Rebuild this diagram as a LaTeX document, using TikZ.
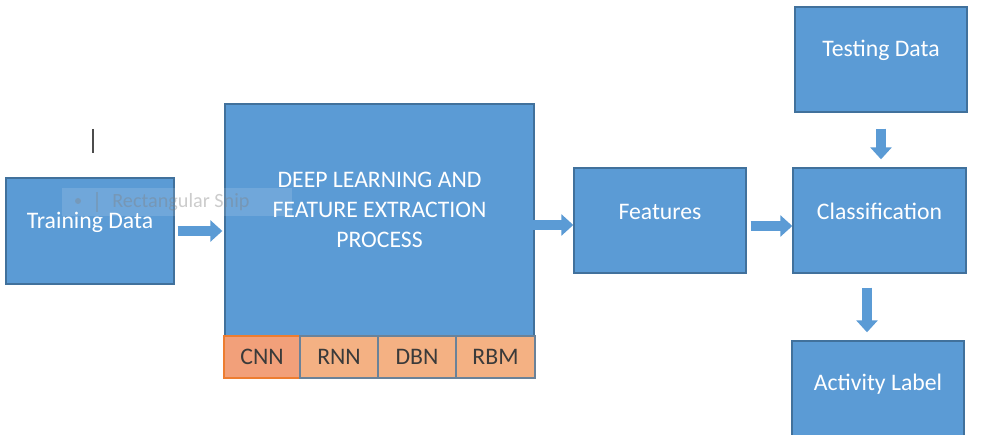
\documentclass[tikz,border=0pt]{standalone}
\usepackage{fontspec}
\setmainfont{Carlito}
\usetikzlibrary{arrows.meta,calc}
\definecolor{boxblue}{HTML}{5B9BD5}
\definecolor{boxedge}{HTML}{41719C}
\definecolor{peach}{HTML}{F4B183}
\definecolor{peachsel}{HTML}{F2A07A}
\definecolor{peachedge}{HTML}{ED7D31}
\definecolor{slateedge}{HTML}{6A8299}
\definecolor{labelgray}{HTML}{3A3A3A}
\tikzset{
  blk/.style={draw=boxedge, fill=boxblue, line width=0.8pt, inner sep=0pt},
  txt/.style={text=white, font=\fontsize{13.5}{17}\selectfont, align=center},
  algo/.style={draw=slateedge, fill=peach, line width=0.8pt, inner sep=0pt,
    minimum width=1.56cm, minimum height=0.84cm, text=labelgray,
    font=\fontsize{13.5}{15}\selectfont},
  blockarrow/.style={draw=boxblue, line width=0.2cm,
    -{Triangle[width=0.42cm, length=0.24cm]}},
}
\begin{document}
\begin{tikzpicture}[x=0.02cm, y=-0.02cm]
\useasboundingbox (0,0) rectangle (984,435);
\fill[white] (0,0) rectangle (984,435);

% main blocks
\node[blk, minimum width=3.36cm, minimum height=2.12cm,
  label={[txt, yshift=0.18cm]center:Training Data}] (train) at (90,231) {};
\node[blk, minimum width=6.18cm, minimum height=4.64cm,
  label={[txt, yshift=0.2cm]center:DEEP LEARNING AND\\FEATURE EXTRACTION\\PROCESS}] (dl) at (379.5,220) {};
\node[blk, minimum width=3.44cm, minimum height=2.1cm,
  label={[txt, yshift=0.18cm]center:Features}] (feat) at (660,220.5) {};
\node[blk, minimum width=3.46cm, minimum height=2.1cm,
  label={[txt, yshift=0.18cm]center:Classification}] (cls) at (879.5,220.5) {};
\node[blk, minimum width=3.44cm, minimum height=2.1cm,
  label={[txt, yshift=0.18cm]center:Testing Data}] (test) at (881,59.5) {};
\node[blk, minimum width=3.44cm, minimum height=2.1cm,
  label={[txt, yshift=0.18cm]center:Activity Label}] (act) at (878,393.5) {};

% network types under the deep learning block
\node[algo, minimum width=1.52cm, fill=peachsel, draw=peachedge] (cnn) at (262,357) {CNN};
\node[algo] (rnn) at (339,357) {RNN};
\node[algo] (dbn) at (417,357) {DBN};
\node[algo, minimum width=1.58cm] (rbm) at (495.5,357) {RBM};

% flow arrows
\draw[blockarrow, shorten <=0.06cm, shorten >=0.04cm] (train.east) -- (train.east -| dl.west);
\coordinate (dlout) at ($(dl.east)+(0,5)$);
\draw[blockarrow, shorten <=-0.04cm] (dlout) -- (dlout -| feat.west);
\coordinate (featout) at ($(feat.east)+(0,5.5)$);
\draw[blockarrow, shorten <=0.08cm] (featout) -- (featout -| cls.west);
\draw[blockarrow, shorten <=0.32cm, shorten >=0.16cm] (test.south) -- (test.south |- cls.north);
\coordinate (clsout) at ($(cls.south)+(-12.5,0)$);
\draw[blockarrow, shorten <=0.28cm, shorten >=0.16cm] (clsout) -- (clsout |- act.north);

% faint snipping-tool tooltip and text cursor
\node[fill=white, fill opacity=0.13, minimum width=4.6cm, minimum height=0.56cm,
  inner sep=0pt] (snipbg) at (177,202) {};
\fill[gray, opacity=0.35] (78,201) circle (3);
\draw[gray, opacity=0.3, line width=0.6pt] (97,192) -- (97,212);
\node[text=gray, text opacity=0.4, font=\fontsize{11.5}{13}\selectfont, anchor=west,
  inner sep=0pt] (sniptext) at (112,202) {Rectangular Snip};
\draw[line width=1.1pt, black!70] (93,129) -- (93,153);
\end{tikzpicture}
\end{document}
